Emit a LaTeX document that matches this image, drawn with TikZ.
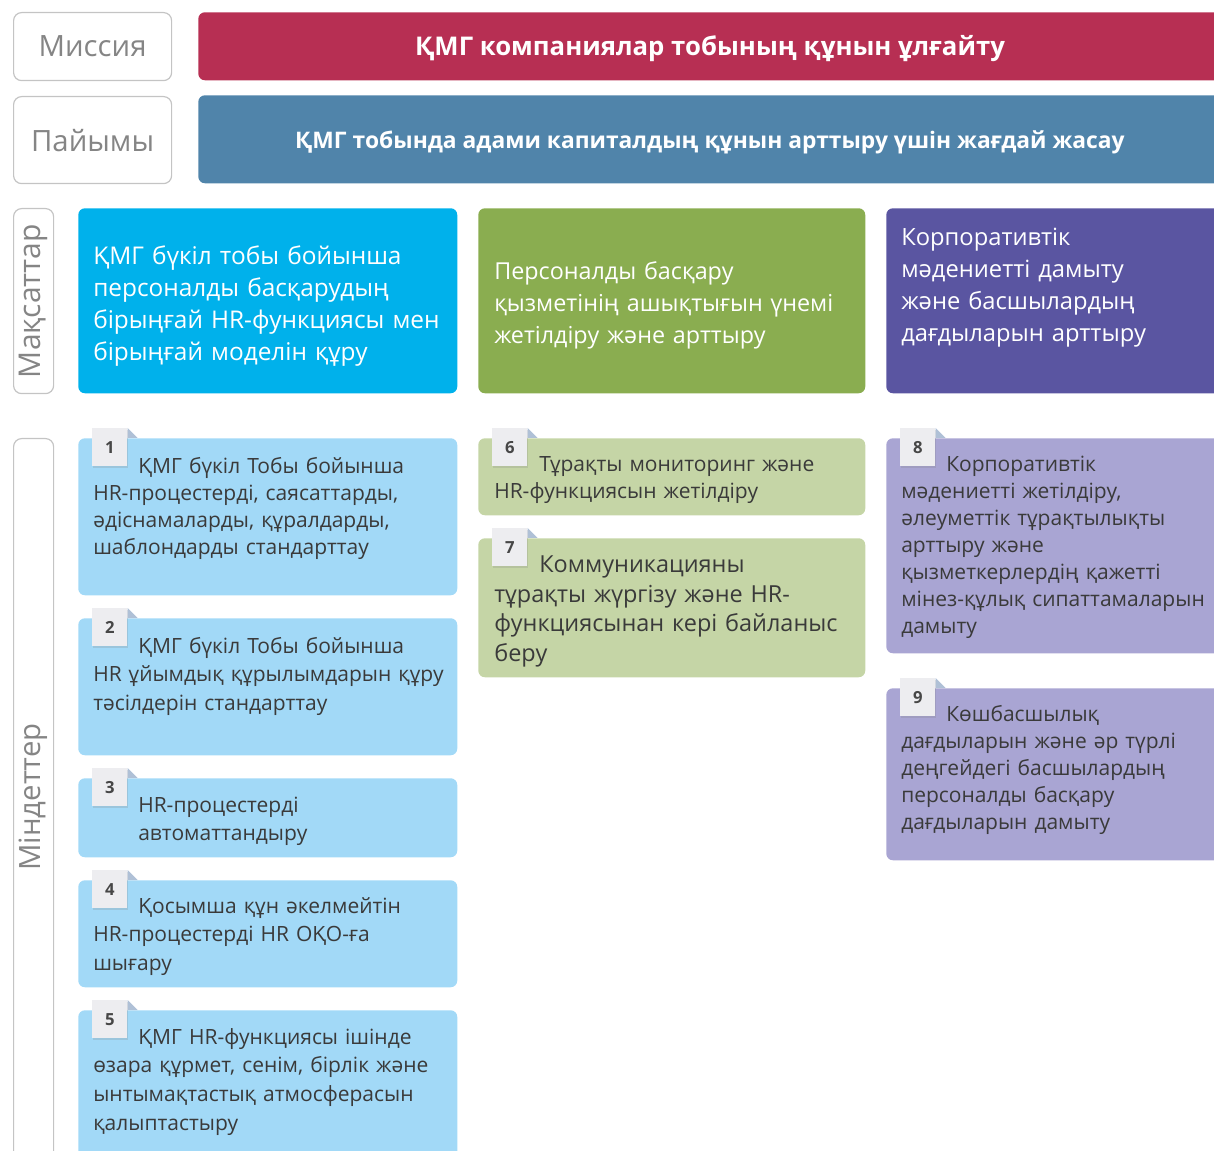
\documentclass[tikz,border=0pt]{standalone}
\usepackage{fontspec}
\setmainfont{Open Sans}
\usepackage{tikz}
\usetikzlibrary{shadows}
\usepackage{xcolor}

\definecolor{lblgray}{HTML}{C4C4C4}
\definecolor{lbltext}{HTML}{858585}
\definecolor{missred}{HTML}{B72F53}
\definecolor{visblue}{HTML}{5084AA}
\definecolor{goalcyan}{HTML}{00B1EB}
\definecolor{goalgreen}{HTML}{8AAD50}
\definecolor{goalviolet}{HTML}{5A55A1}
\definecolor{taskcyan}{HTML}{A2D9F7}
\definecolor{taskgreen}{HTML}{C5D5A6}
\definecolor{taskviolet}{HTML}{A9A5D3}
\definecolor{badgefill}{HTML}{EDEDF0}
\definecolor{foldblue}{HTML}{AFC0D6}
\definecolor{tasktext}{HTML}{3A3A3A}

\begin{document}
\begin{tikzpicture}[
  x=0.75pt,y=-0.75pt,
  lbl/.style={draw=lblgray, line width=0.9pt, rounded corners=6pt, fill=white,
    anchor=north west, inner sep=0pt},
  lbltxt/.style={text=lbltext, font=\fontsize{22pt}{26pt}\selectfont, inner sep=0pt},
  banner/.style={rounded corners=5pt, anchor=north west, inner sep=0pt},
  bannertxt/.style={text=white, font=\bfseries\fontsize{19.3pt}{23pt}\selectfont, inner sep=0pt},
  box/.style={rounded corners=5pt, anchor=north west, inner sep=0pt},
  goaltxt/.style={text=white, anchor=base west, inner sep=0pt, align=left,
    font=\fontsize{18.3pt}{24pt}\selectfont},
  tasktxt/.style={text=tasktext, anchor=base west, inner sep=0pt, align=left,
    font=\fontsize{15.75pt}{20.25pt}\selectfont},
  tasktxtl/.style={tasktxt, font=\fontsize{15.75pt}{21.6pt}\selectfont},
  badge/.style={fill=badgefill, minimum width=26.25pt, minimum height=28.5pt,
    anchor=north west, inner sep=0pt, text=black!72,
    font=\bfseries\fontsize{12.5pt}{14pt}\selectfont,
    drop shadow={shadow xshift=0.8pt, shadow yshift=-1pt, opacity=0.22}},
  fold/.style={fill=foldblue}
]
  \useasboundingbox (0,0) rectangle (1214,1151);
  \clip (0,0) rectangle (1214,1151);

  % mission and vision
  \node[lbl, minimum width=118.5pt, minimum height=51pt] (mislbl) at (13,12) {};
  \node[lbltxt] at (mislbl.center) {Миссия};
  \node[lbl, minimum width=118.5pt, minimum height=65.25pt] (vislbl) at (13,96) {};
  \node[lbltxt] at (vislbl.center) {Пайымы};
  \node[banner, fill=missred, minimum width=769.5pt, minimum height=51pt] (mission) at (198,12) {};
  \node[bannertxt] at (710,49) {ҚМГ компаниялар тобының құнын ұлғайту};
  \node[banner, fill=visblue, minimum width=769.5pt, minimum height=66pt] (vision) at (198,95) {};
  \node[bannertxt, font=\bfseries\fontsize{17.1pt}{21pt}\selectfont] at (710,142)
    {ҚМГ тобында адами капиталдың құнын арттыру үшін жағдай жасау};

  % goals
  \node[lbl, minimum width=30pt, minimum height=138.75pt] (goallbl) at (13,208) {};
  \node[lbltxt, font=\fontsize{22.5pt}{26pt}\selectfont, rotate=90] at (goallbl.center) {Мақсаттар};
  \node[box, fill=goalcyan, minimum width=284.25pt, minimum height=138.75pt] (goal1) at (78,208) {};
  \node[box, fill=goalgreen, minimum width=290.25pt, minimum height=138.75pt] (goal2) at (478,208) {};
  \node[box, fill=goalviolet, minimum width=253.5pt, minimum height=138.75pt] (goal3) at (886,208) {};
  \node[goaltxt, text width=280pt] (goal1txt) at (93,265)
    {ҚМГ бүкіл тобы бойынша\\ персоналды басқарудың\\ бірыңғай HR-функциясы мен\\ бірыңғай моделін құру};
  \node[goaltxt, text width=285pt, font=\fontsize{17.5pt}{23.8pt}\selectfont] (goal2txt) at (494,280)
    {Персоналды басқару\\ қызметінің ашықтығын үнемі\\ жетілдіру және арттыру};
  \node[goaltxt, text width=240pt, font=\fontsize{17.8pt}{24pt}\selectfont] (goal3txt) at (901,246)
    {Корпоративтік\\ мәдениетті дамыту\\ және басшылардың\\ дағдыларын арттыру};

  % tasks
  \node[lbl, minimum width=30pt, minimum height=545pt] (tasklbl) at (13,438) {};
  \node[lbltxt, rotate=90] at (33,797) {Міндеттер};

  \node[box, fill=taskcyan, minimum width=284.25pt, minimum height=117.75pt] (task1) at (78,438) {};
  \node[box, fill=taskcyan, minimum width=284.25pt, minimum height=102.75pt] (task2) at (78,618) {};
  \node[box, fill=taskcyan, minimum width=284.25pt, minimum height=59.25pt] (task3) at (78,778) {};
  \node[box, fill=taskcyan, minimum width=284.25pt, minimum height=80.25pt] (task4) at (78,880) {};
  \node[box, fill=taskcyan, minimum width=284.25pt, minimum height=116.25pt] (task5) at (78,1010) {};
  \node[box, fill=taskgreen, minimum width=290.25pt, minimum height=57.75pt] (task6) at (478,438) {};
  \node[box, fill=taskgreen, minimum width=290.25pt, minimum height=104.25pt] (task7) at (478,538) {};
  \node[box, fill=taskviolet, minimum width=253.5pt, minimum height=161.25pt] (task8) at (886,438) {};
  \node[box, fill=taskviolet, minimum width=253.5pt, minimum height=129pt] (task9) at (886,688) {};

  \node[badge] (b1) at (92,428) {1};
  \node[badge] (b2) at (92,608) {2};
  \node[badge] (b3) at (92,768) {3};
  \node[badge] (b4) at (92,870) {4};
  \node[badge] (b5) at (92,1000) {5};
  \node[badge] (b6) at (492,428) {6};
  \node[badge] (b7) at (492,528) {7};
  \node[badge] (b8) at (900,428) {8};
  \node[badge] (b9) at (900,678) {9};
  \foreach \b in {b1,b2,b3,b4,b5,b6,b7,b8,b9}
    \fill[fold] (\b.north east) -- ++(10,10) -- ++(-10,0) -- cycle;

  \node[tasktxt, text width=275pt] (task1txt) at (93,474)
    {\hspace*{33.75pt}ҚМГ бүкіл Тобы бойынша\\ HR-процестерді, саясаттарды,\\ әдіснамаларды, құралдарды,\\ шаблондарды стандарттау};
  \node[tasktxtl, text width=275pt] (task2txt) at (93,653)
    {\hspace*{33.75pt}ҚМГ бүкіл Тобы бойынша\\ HR ұйымдық құрылымдарын құру\\ тәсілдерін стандарттау};
  \node[tasktxtl, text width=275pt] (task3txt) at (93,812)
    {\hspace*{33.75pt}HR-процестерді\\ \hspace*{33.75pt}автоматтандыру};
  \node[tasktxtl, text width=275pt] (task4txt) at (93,913)
    {\hspace*{33.75pt}Қосымша құн әкелмейтін\\ HR-процестерді HR ОҚО-ға\\ шығару};
  \node[tasktxtl, text width=275pt] (task5txt) at (93,1044)
    {\hspace*{33.75pt}ҚМГ HR-функциясы ішінде\\ өзара құрмет, сенім, бірлік және\\ ынтымақтастық атмосферасын\\ қалыптастыру};
  \node[tasktxt, text width=280pt] (task6txt) at (494,472)
    {\hspace*{33.75pt}Тұрақты мониторинг және\\ HR-функциясын жетілдіру};
  \node[tasktxt, text width=280pt, font=\fontsize{17.6pt}{22.1pt}\selectfont] (task7txt) at (494,573)
    {\hspace*{33.75pt}Коммуникацияны\\ тұрақты жүргізу және HR-\\ функциясынан кері байланыс\\ беру};
  \node[tasktxt, text width=245pt] (task8txt) at (901,472)
    {\hspace*{33.75pt}Корпоративтік\\ мәдениетті жетілдіру,\\ әлеуметтік тұрақтылықты\\ арттыру және\\ қызметкерлердің қажетті\\ мінез-құлық сипаттамаларын\\ дамыту};
  \node[tasktxt, text width=245pt] (task9txt) at (901,721)
    {\hspace*{33.75pt}Көшбасшылық\\ дағдыларын және әр түрлі\\ деңгейдегі басшылардың\\ персоналды басқару\\ дағдыларын дамыту};
\end{tikzpicture}
\end{document}
